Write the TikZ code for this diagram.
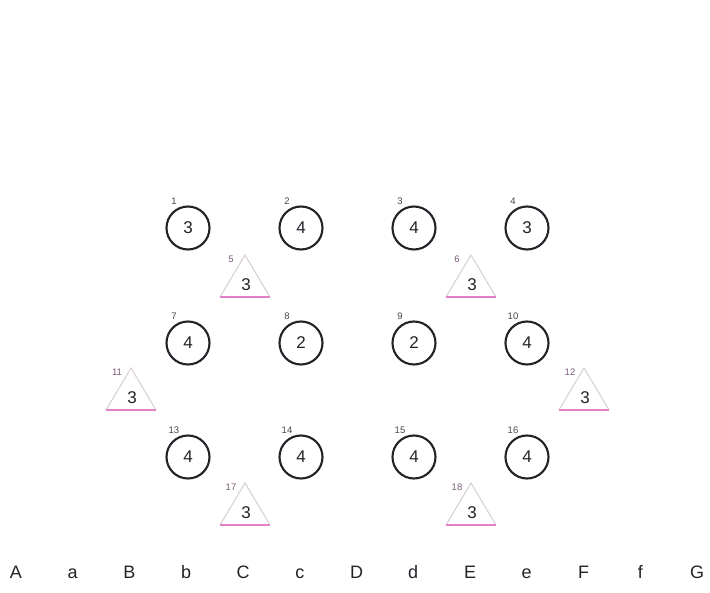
\documentclass[tikz,border=0pt]{standalone}
\usepackage{fontspec}
\setmainfont{Liberation Sans}
\definecolor{ringc}{RGB}{34,34,40}
\definecolor{triside}{RGB}{215,205,212}
\definecolor{tribase}{RGB}{225,130,200}
\definecolor{trinum}{RGB}{120,90,120}
\definecolor{lblc}{RGB}{70,70,70}
\begin{document}
\begin{tikzpicture}[x=1pt,y=-1pt,
  ring/.style={circle,draw=ringc,line width=2.1pt,minimum size=43pt,inner sep=0pt,font=\fontsize{17}{17}\selectfont,text=ringc},
  ringlbl/.style={font=\fontsize{9.5}{9.5}\selectfont,text=lblc,inner sep=0pt},
  trinum/.style={font=\fontsize{17}{17}\selectfont,text=ringc,inner sep=0pt},
  trilbl/.style={font=\fontsize{9.5}{9.5}\selectfont,text=trinum,inner sep=0pt},
  colname/.style={font=\fontsize{18}{18}\selectfont,text=ringc,inner sep=0pt,anchor=base}]
\useasboundingbox (0,0) rectangle (710,593);
% circles
\foreach \n/\x/\y/\v in {1/188/228/3,2/301/228/4,3/414/228/4,4/527/228/3,
                        7/188/343/4,8/301/343/2,9/414/343/2,10/527/343/4,
                        13/188/457/4,14/301/457/4,15/414/457/4,16/527/457/4}{
  \node[ring] (c\n) at (\x,\y) {\v};
  \node[ringlbl] (l\n) at (\x-14,\y-27) {\n};
}
% triangles
\foreach \n/\x/\y in {5/245/297,6/471/297,11/131/410,12/584/410,17/245/525,18/471/525}{
  \coordinate (tl\n) at (\x-25,\y);
  \coordinate (tr\n) at (\x+25,\y);
  \coordinate (ta\n) at (\x,\y-42);
  \draw[triside,line width=1pt] (tl\n) -- (ta\n) -- (tr\n);
  \draw[tribase,line width=1.3pt] (tl\n) -- (tr\n);
  \node[trinum] (tn\n) at (\x+1,\y-12) {3};
  \node[trilbl] (tt\n) at (\x-14,\y-38) {\n};
}
% column letters
\foreach \t [count=\i from 0] in {A,a,B,b,C,c,D,d,E,e,F,f,G}{
  \node[colname] (k\i) at (16+56.75*\i,578) {\t};
}
\end{tikzpicture}
\end{document}
